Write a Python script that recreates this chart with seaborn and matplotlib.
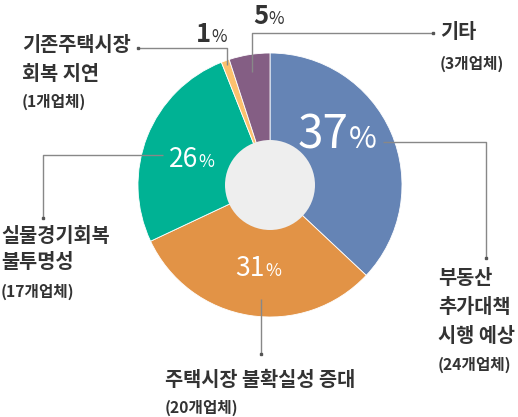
import matplotlib.pyplot as plt
import seaborn as sns
from matplotlib.patches import Circle

# survey result: reasons given by firms
labels = ["부동산\n추가대책\n시행 예상", "주택시장 불확실성 증대", "실물경기회복\n불투명성",
          "기존주택시장\n회복 지연", "기타"]
firms = [24, 20, 17, 1, 3]
pcts = [37, 31, 26, 1, 5]
colors = ["#6584b5", "#e29346", "#00b294", "#fcc16e", "#845e84"]

sns.set_theme(style="white")
plt.rcParams["font.family"] = ["Noto Sans CJK KR", "DejaVu Sans"]

W, H = 518, 417
fig = plt.figure(figsize=(W / 100, H / 100), dpi=100)
ax = fig.add_axes([0, 0, 1, 1])


def Y(py):
    # pixel row (top origin) -> data y
    return H - py


cx, cy, R = 270, Y(185), 132
ax.pie(pcts, colors=sns.color_palette(colors), startangle=90, counterclock=False,
       center=(cx, cy), radius=R, wedgeprops=dict(edgecolor="white", linewidth=0.6))
ax.add_patch(Circle((cx, cy), 45, facecolor="#eeeeee", edgecolor="none", zorder=3))
ax.set_xlim(0, W)
ax.set_ylim(0, H)
ax.set_aspect("equal")
ax.axis("off")

TXT = "#333333"
LINE = "#888888"

# percentage numbers: (split x, baseline y, number size, colour, weight)
pct_pos = [(349, 148, 33, "white", "normal"), (265, 276, 19, "white", "normal"),
           (198, 167, 19, "white", "normal"), (211, 42, 18.5, TXT, "bold"),
           (268, 24, 18.5, TXT, "bold")]
for p, (x, yb, fs, c, fw) in zip(pcts, pct_pos):
    ax.text(x, Y(yb), str(p), ha="right", va="baseline", fontsize=fs, color=c,
            fontweight=fw)
    ax.text(x, Y(yb), "%", ha="left", va="baseline", fontsize=fs * 0.66, color=c,
            fontweight="normal")

# leader lines
leaders = [
    [(383, 142), (486, 142), (486, 258)],
    [(261, 299), (261, 354)],
    [(163, 155), (43, 155), (43, 218)],
    [(227, 65), (227, 48), (138, 48)],
    [(252, 72), (252, 33), (433, 33)],
]
for pts in leaders:
    xs = [p[0] for p in pts]
    ys = [Y(p[1]) for p in pts]
    ax.plot(xs, ys, color=LINE, lw=1, zorder=4, solid_capstyle="butt")
    ax.plot(xs[-1], ys[-1], "s", color="#555555", ms=2, zorder=5)

# category labels: (x, first line centre, line step, sub-label centre)
lab_pos = [(438, 279, 28.5, 365), (165, 380, 28, 408), (1, 236, 27, 292),
           (22, 45, 29, 102), (440, 32, 28, 64)]
for lab, n, (x, y0, step, ys) in zip(labels, firms, lab_pos):
    for i, line in enumerate(lab.split("\n")):
        ax.text(x, Y(y0 + i * step), line, ha="left", va="center", fontsize=14.2,
                color=TXT, fontweight="bold")
    ax.text(x, Y(ys), f"({n}개업체)", ha="left", va="center", fontsize=11.3,
            color=TXT, fontweight="bold")

fig.savefig("out.png", dpi=100)
